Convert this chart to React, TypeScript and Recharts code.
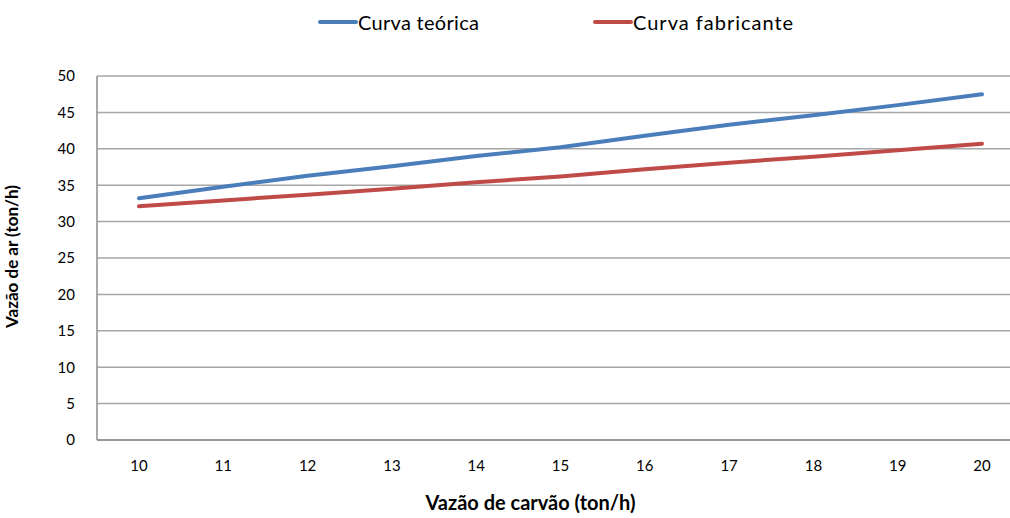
import { LineChart, Line, XAxis, YAxis, CartesianGrid, Legend } from 'recharts';

const categories = [10, 11, 12, 13, 14, 15, 16, 17, 18, 19, 20];
const curvaTeorica = [33.2, 34.8, 36.3, 37.6, 39.0, 40.2, 41.8, 43.3, 44.6, 46.0, 47.5];
const curvaFabricante = [32.1, 32.9, 33.7, 34.5, 35.4, 36.2, 37.2, 38.1, 38.9, 39.8, 40.7];
const yTicks = [0, 5, 10, 15, 20, 25, 30, 35, 40, 45, 50];

const SERIES = [
  { key: 'teorica', label: 'Curva teórica', color: '#4a7ebb', left: 318 },
  { key: 'fabricante', label: 'Curva fabricante', color: '#be4b48', left: 593 },
];

const data = categories.map((c, i) => ({
  name: String(c),
  teorica: curvaTeorica[i],
  fabricante: curvaFabricante[i],
}));

const FONT = 'Lato, "Open Sans", sans-serif';

// the plot area runs past the right edge of the picture, like the original
document.body.style.margin = '0';
document.body.style.overflow = 'hidden';

function LegendContent() {
  return (
    <div style={{ position: 'relative', height: 26, fontFamily: FONT, fontSize: 20, color: '#000' }}>
      {SERIES.map((s) => (
        <div
          key={s.key}
          style={{ position: 'absolute', left: s.left, top: 0, display: 'flex', alignItems: 'center' }}
        >
          <div style={{ width: 40, height: 4, backgroundColor: s.color, borderRadius: 2 }} />
          <span style={{ letterSpacing: s.key === 'fabricante' ? 1 : 0.3 }}>{s.label}</span>
        </div>
      ))}
    </div>
  );
}

export default function App() {
  return (
    <div style={{ width: 1030, height: 518, position: 'relative', background: '#fff' }}>
      <LineChart
        width={1030}
        height={518}
        data={data}
        margin={{ top: 76, right: 6, left: 0, bottom: 38 }}
      >
        <CartesianGrid vertical={false} stroke="#a6a6a6" strokeWidth={1.5} />
        <XAxis
          dataKey="name"
          padding={{ left: 42, right: 42 }}
          tickLine={false}
          axisLine={{ stroke: '#8c8c8c', strokeWidth: 1.5 }}
          tick={{ fontSize: 15, fill: '#000', fontFamily: FONT }}
          tickMargin={14}
          height={40}
          label={{
            value: 'Vazão de carvão (ton/h)',
            position: 'bottom',
            offset: 16,
            dx: -30,
            style: { fontSize: 20, fontWeight: 'bold', fill: '#000', fontFamily: FONT },
          }}
        />
        <YAxis
          domain={[0, 50]}
          ticks={yTicks}
          width={97}
          tickLine={false}
          axisLine={{ stroke: '#8c8c8c', strokeWidth: 1.5 }}
          tick={{ fontSize: 15, fill: '#000', fontFamily: FONT }}
          tickMargin={16}
          label={{
            value: 'Vazão de ar (ton/h)',
            angle: -90,
            position: 'insideLeft',
            offset: 12,
            dy: 70,
            style: { fontSize: 17, fontWeight: 'bold', fill: '#000', fontFamily: FONT },
          }}
        />
        <Legend
          verticalAlign="middle"
          content={<LegendContent />}
          wrapperStyle={{ top: 10, left: 0, width: 1010 }}
        />
        {SERIES.map((s) => (
          <Line
            key={s.key}
            type="linear"
            dataKey={s.key}
            name={s.label}
            stroke={s.color}
            strokeWidth={4}
            strokeLinecap="round"
            dot={false}
            activeDot={false}
            isAnimationActive={false}
          />
        ))}
      </LineChart>
    </div>
  );
}
